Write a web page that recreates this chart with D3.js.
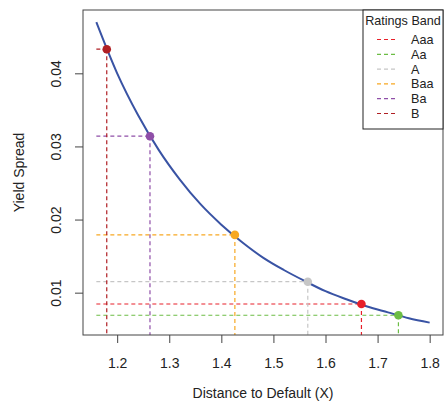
<!DOCTYPE html>
<html lang="en">
<head>
    <meta charset="UTF-8">
    <title>Yield Spread vs Distance to Default</title>
    <script src="https://d3js.org/d3.v7.min.js"></script>
    <style>
        body { margin: 0; background: #fff; }
        svg text { font-family: "Liberation Sans", Arial, sans-serif; fill: #222; }
        .curve { fill: none; stroke: #3953a4; stroke-width: 2px; }
        .guide { fill: none; stroke-width: 1.2px; stroke-dasharray: 4,3; }
    </style>
</head>
<body>
<div id="chart"></div>
<script>
    // curve
    var curveX = [1.16, 1.20, 1.24, 1.28, 1.32, 1.36, 1.40, 1.44, 1.48, 1.52, 1.56, 1.60, 1.64, 1.68, 1.72, 1.76, 1.80];
    var curveY = [0.0470, 0.0400, 0.0343, 0.0295, 0.0255, 0.0221, 0.0193, 0.0169, 0.0148, 0.0131, 0.0116, 0.0102, 0.0091, 0.0081, 0.0073, 0.0065, 0.0059];

    // ratings bands
    var bands = ["Aaa", "Aa", "A", "Baa", "Ba", "B"];
    var bandX = [1.669, 1.740, 1.566, 1.426, 1.263, 1.180];
    var bandY = [0.00845, 0.00691, 0.0115, 0.0179, 0.0314, 0.0433];
    var bandColors = ["#e8202a", "#6cbd45", "#c6c6c6", "#f7a823", "#8f4fa8", "#b01f24"];

    var xTicks = [1.2, 1.3, 1.4, 1.5, 1.6, 1.7, 1.8];
    var yTicks = [0.01, 0.02, 0.03, 0.04];

    var W = 445, H = 413;
    var margin = {top: 10, right: 2, bottom: 78, left: 83},
        width = W - margin.left - margin.right,
        height = H - margin.top - margin.bottom;

    var x = d3.scaleLinear().domain([1.1344, 1.8256]).range([0, width]);
    var y = d3.scaleLinear().domain([0.00421, 0.04866]).range([height, 0]);

    var svg = d3.select("#chart").append("svg")
        .attr("width", W).attr("height", H);
    var g = svg.append("g")
        .attr("transform", "translate(" + margin.left + "," + margin.top + ")");

    g.append("clipPath").attr("id", "clip")
        .append("rect").attr("width", width).attr("height", height);

    // dashed guides
    var guides = g.append("g").attr("clip-path", "url(#clip)");
    bands.forEach(function(b, i) {
        guides.append("line").attr("class", "guide")
            .attr("stroke", bandColors[i])
            .attr("x1", x(curveX[0])).attr("x2", x(bandX[i]))
            .attr("y1", y(bandY[i])).attr("y2", y(bandY[i]));
        guides.append("line").attr("class", "guide")
            .attr("stroke", bandColors[i])
            .attr("x1", x(bandX[i])).attr("x2", x(bandX[i]))
            .attr("y1", y(bandY[i])).attr("y2", height);
    });

    var pts = curveX.map(function(d, i) { return [d, curveY[i]]; });
    var line = d3.line()
        .x(function(d) { return x(d[0]); })
        .y(function(d) { return y(d[1]); })
        .curve(d3.curveMonotoneX);
    g.append("path").datum(pts).attr("class", "curve").attr("d", line);

    g.selectAll(".dot").data(bands).enter().append("circle")
        .attr("cx", function(d, i) { return x(bandX[i]); })
        .attr("cy", function(d, i) { return y(bandY[i]); })
        .attr("r", 4.3)
        .attr("fill", function(d, i) { return bandColors[i]; });

    // axes
    var xAxis = d3.axisBottom(x).tickValues(xTicks).tickSize(8).tickPadding(15)
        .tickFormat(d3.format(".1f"));
    var yAxis = d3.axisLeft(y).tickValues(yTicks).tickSize(8)
        .tickFormat(d3.format(".2f"));

    var gx = g.append("g").attr("transform", "translate(0," + height + ")").call(xAxis);
    gx.select(".domain").remove();
    gx.selectAll("line").attr("stroke", "#444");
    gx.selectAll("text").style("font-size", "14px").attr("fill", "#222");

    var gy = g.append("g").call(yAxis);
    gy.select(".domain").remove();
    gy.selectAll("line").attr("stroke", "#444");
    gy.selectAll("text").style("font-size", "14px").attr("fill", "#222")
        .attr("text-anchor", "middle")
        .attr("x", 0).attr("dy", "0.35em")
        .attr("transform", "translate(-27,0) rotate(-90)");

    g.append("rect").attr("width", width).attr("height", height)
        .attr("fill", "none").attr("stroke", "#444").attr("stroke-width", 1);

    svg.append("text").attr("x", margin.left + width / 2).attr("y", 398)
        .attr("text-anchor", "middle").style("font-size", "14px")
        .text("Distance to Default (X)");
    svg.append("text")
        .attr("transform", "translate(24," + (margin.top + height / 2) + ") rotate(-90)")
        .attr("text-anchor", "middle").style("font-size", "14px")
        .text("Yield Spread");

    // legend
    var lg = svg.append("g").attr("transform", "translate(363,10)");
    lg.append("rect").attr("width", 80).attr("height", 119)
        .attr("fill", "#fff").attr("stroke", "#222");
    lg.append("text").attr("x", 40).attr("y", 15).attr("text-anchor", "middle")
        .style("font-size", "12.6px").text("Ratings Band");
    bands.forEach(function(b, i) {
        var ly = 29.5 + i * 14.8;
        lg.append("line").attr("class", "guide").attr("stroke", bandColors[i])
            .attr("x1", 14).attr("x2", 34).attr("y1", ly).attr("y2", ly);
        lg.append("text").attr("x", 48).attr("y", ly).attr("dy", "0.35em")
            .style("font-size", "12.6px").text(b);
    });
</script>
</body>
</html>
